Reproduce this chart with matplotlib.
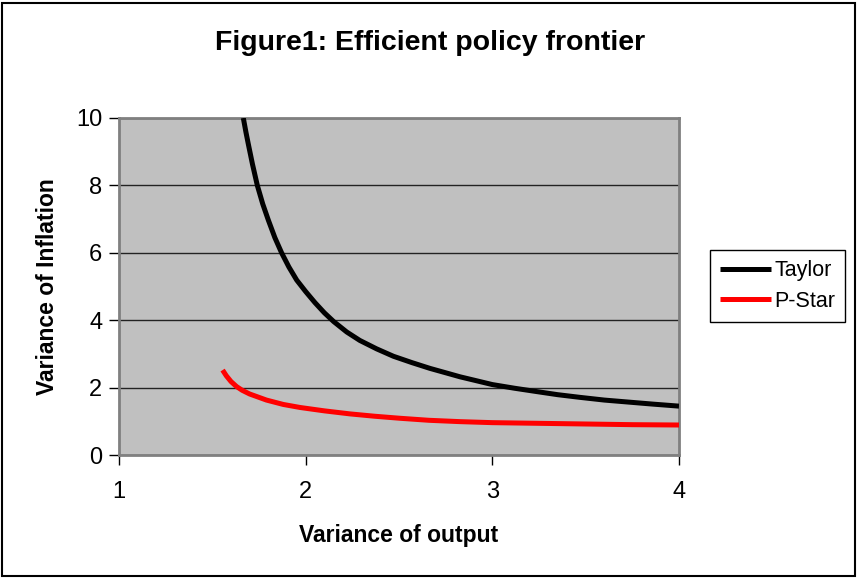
import matplotlib
matplotlib.use("Agg")
import matplotlib.pyplot as plt
from matplotlib.patches import Rectangle

# Data
taylor_x = [1.666, 1.68, 1.693, 1.715, 1.741, 1.77, 1.80, 1.835, 1.871, 1.91, 1.952, 2.0, 2.05, 2.10,
            2.15, 2.22, 2.29, 2.38, 2.47, 2.57, 2.666, 2.75, 2.827, 2.91, 3.0, 3.12, 3.24, 3.35, 3.47,
            3.6, 3.73, 3.86, 4.0]
taylor_y = [10.0, 9.58, 9.22, 8.63, 8.0, 7.45, 6.97, 6.45, 6.0, 5.58, 5.19, 4.85, 4.52, 4.22,
            3.96, 3.65, 3.40, 3.15, 2.93, 2.74, 2.57, 2.44, 2.32, 2.21, 2.09, 1.98, 1.88, 1.79, 1.71,
            1.63, 1.57, 1.51, 1.45]

pstar_x = [1.555, 1.575, 1.60, 1.63, 1.66, 1.70, 1.75, 1.79, 1.88, 1.97, 2.10, 2.237, 2.37, 2.505,
           2.66, 2.827, 3.0, 3.25, 3.5, 3.75, 4.0]
pstar_y = [2.52, 2.35, 2.18, 2.03, 1.92, 1.81, 1.71, 1.63, 1.50, 1.41, 1.31, 1.22, 1.15, 1.09,
           1.03, 0.99, 0.96, 0.94, 0.92, 0.90, 0.89]

x_ticks = [1, 2, 3, 4]
y_ticks = [0, 2, 4, 6, 8, 10]

title = "Figure1: Efficient policy frontier"
x_label = "Variance of output"
y_label = "Variance of Inflation"

plt.rcParams['font.family'] = ['Liberation Sans', 'DejaVu Sans']

fig = plt.figure(figsize=(8.57, 5.78), dpi=100)
fig.patch.set_facecolor("white")
fig.patches.append(Rectangle((2 / 857, 2 / 578), 853 / 857, 573 / 578, transform=fig.transFigure,
                             fill=False, edgecolor="black", linewidth=1.5, zorder=0))

ax = fig.add_axes([119 / 857, 1 - 455 / 578, 560 / 857, 337 / 578])
ax.set_facecolor("#C0C0C0")

ax.plot(taylor_x, taylor_y, color="black", linewidth=3.6, label="Taylor",
        solid_capstyle="butt", solid_joinstyle="round", zorder=3)
ax.plot(pstar_x, pstar_y, color="#FF0000", linewidth=3.6, label="P-Star",
        solid_capstyle="butt", solid_joinstyle="round", zorder=3)

ax.set_xlim(1, 4)
ax.set_ylim(0, 10)
ax.set_xticks(x_ticks)
ax.set_yticks(y_ticks)
ax.set_xticklabels([str(v) for v in x_ticks])
ax.set_yticklabels([str(v) for v in y_ticks])
ax.yaxis.grid(True, color="#222222", linewidth=1.0)
ax.set_axisbelow(True)

for s in ax.spines.values():
    s.set_color("#808080")
    s.set_linewidth(2)
ax.tick_params(axis="both", direction="out", length=7, width=1, color="black",
               labelsize=17, pad=5)
ax.tick_params(axis="x", pad=12)

ax.set_xlabel(x_label, fontsize=16.5, fontweight="bold", labelpad=15)
ax.set_ylabel(y_label, fontsize=16.5, fontweight="bold", labelpad=12)
fig.text(430 / 857, 1 - 43 / 578, title, fontsize=20.5, fontweight="bold", ha="center", va="center")

leg = ax.legend(loc="center left", bbox_to_anchor=(710 / 857, 1 - 286 / 578), bbox_transform=fig.transFigure,
                fontsize=15.5, frameon=True, fancybox=False, framealpha=1, edgecolor="black",
                handlelength=2.4, handletextpad=0.15, borderpad=0.45, labelspacing=0.45, borderaxespad=0)
leg.get_frame().set_linewidth(1.0)

fig.savefig("out.png", dpi=100)
